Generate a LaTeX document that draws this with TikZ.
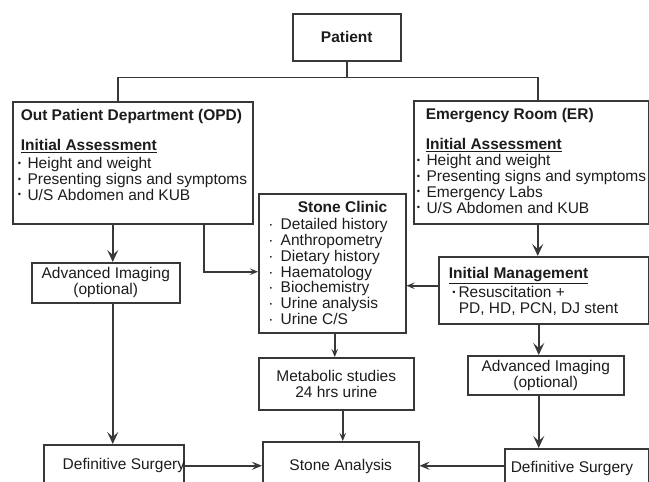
\documentclass[tikz,border=0pt]{standalone}
\usepackage{fontspec}
\setmainfont{Liberation Sans}
\usetikzlibrary{arrows.meta}
\definecolor{linegray}{HTML}{383838}
\definecolor{inkgray}{HTML}{1C1C1C}
% box bodies: width, height, text
\newcommand{\topbox}[3]{\parbox[c][\dimexpr#2pt-10pt\relax][t]{\dimexpr#1pt-8pt\relax}{\raggedright#3}}
\newcommand{\midbox}[3]{\parbox[c][\dimexpr#2pt-10pt\relax][c]{\dimexpr#1pt-8pt\relax}{\centering#3}}
\newcommand{\sbul}{\raisebox{2.5pt}{\scalebox{0.6}{\textbullet}}}
\newcommand{\bitem}[1]{\mbox{\sbul\hspace{6.5pt}#1}}
\newcommand{\citem}[1]{\mbox{\hspace{5.5pt}\makebox[12.5pt][l]{\textperiodcentered}#1}}
\begin{document}
\begin{tikzpicture}[x=1pt,y=-1pt,
  panel/.style={draw=linegray, line width=1.5pt, inner xsep=4pt, inner ysep=5pt,
    anchor=north west, text=inkgray, font=\fontsize{15.5pt}{15.7pt}\selectfont},
  link/.style={draw=linegray, line width=1.5pt},
  arr/.style={link, line width=2pt, -{Stealth[length=12pt,width=11pt,inset=5pt]}},
  arrh/.style={link, line width=2pt, -{Stealth[length=10pt,width=8pt,inset=4pt]}},
  arrs/.style={link, -{Stealth[length=8pt,width=6.5pt,inset=3pt]}}]
\useasboundingbox (0,0) rectangle (649,482);

% Boxes
\node[panel] (patient) at (292,13) {\midbox{108}{47}{\textbf{Patient}}};

\node[panel] (opd) at (12,101) {\topbox{240}{122}{\vspace*{3pt}%
  \hspace*{4pt}\mbox{\textbf{Out Patient Department (OPD)}}\\[14.3pt]
  \hspace*{4pt}\underline{\textbf{Initial Assessment}}\\[2.3pt]
  \hspace*{1pt}\bitem{Height and weight}\\
  \hspace*{1pt}\bitem{Presenting signs and symptoms}\\
  \hspace*{1pt}\bitem{U/S Abdomen and KUB}}};

\node[panel] (er) at (413,100) {\topbox{235}{123}{\vspace*{3pt}%
  \hspace*{8pt}\mbox{\textbf{Emergency Room (ER)}}\\[14.3pt]
  \hspace*{8pt}\underline{\textbf{Initial Assessment}}\\[0.3pt]
  \hspace*{-1pt}\bitem{Height and weight}\\
  \hspace*{-1pt}\bitem{Presenting signs and symptoms}\\
  \hspace*{-1pt}\bitem{Emergency Labs}\\
  \hspace*{-1pt}\bitem{U/S Abdomen and KUB}}};

\node[panel] (clinic) at (258,193) {\topbox{147}{139}{\vspace*{3pt}%
  \hspace*{35pt}\textbf{Stone Clinic}\\[1.3pt]
  \citem{Detailed history}\\
  \citem{Anthropometry}\\
  \citem{Dietary history}\\
  \citem{Haematology}\\
  \citem{Biochemistry}\\
  \citem{Urine analysis}\\
  \citem{Urine C/S}}};

\node[panel] (mgmt) at (438,256) {\topbox{210}{67}{\vspace*{6pt}%
  \hspace*{6pt}\underline{\textbf{Initial Management}}\\[1.3pt]
  \hspace*{9.5pt}\sbul\hspace{3pt}Resuscitation +\\
  \hspace*{16pt}PD, HD, PCN, DJ stent}};

\node[panel] (advl) at (31,262) {\midbox{148}{40}{Advanced Imaging\\(optional)}};
\node[panel] (advr) at (467,355) {\midbox{156}{39}{Advanced Imaging\\(optional)}};
\node[panel] (metab) at (258,357) {\midbox{155}{52}{Metabolic studies\\24 hrs urine}};
\node[panel] (analysis) at (262,441) {\midbox{156}{50}{Stone Analysis}};
\node[panel] (surgl) at (43,444) {\midbox{140}{42}{\makebox[132pt][l]{\hspace{15pt}Definitive Surgery}}};
\node[panel] (surgr) at (504,448) {\midbox{144}{40}{\makebox[136pt][l]{\hspace{2pt}Definitive Surgery}}};

% Patient split
\draw[link] (patient.south) -- ++(0,16) coordinate (bus);
\draw[link] ([xshift=-15pt]opd.north) |- (bus) -| ([xshift=6.5pt]er.north);

% OPD side
\draw[arr] ([xshift=-20pt]opd.south) -- ([xshift=-20pt]opd.south |- advl.north);
\draw[arrs] ([xshift=71pt]opd.south) |- ([yshift=-8.5pt]clinic.west);
\draw[arr] ([xshift=7pt]advl.south) -- ([xshift=7pt]advl.south |- surgl.north);
\draw[arrh] (surgl.east) -- (surgl.east -| analysis.west);

% Stone clinic
\draw[arrs] ([xshift=2.5pt]clinic.south) -- ([xshift=2.5pt]clinic.south |- metab.north);
\draw[arrs] ([xshift=6.5pt]metab.south) -- ([xshift=6.5pt]metab.south |- analysis.north);

% ER side
\draw[arr] ([xshift=6.5pt]er.south) -- ([xshift=6.5pt]er.south |- mgmt.north);
\draw[arrs] ([yshift=4.5pt]mgmt.west) -- ([yshift=4.5pt]mgmt.west -| clinic.east);
\draw[arr] ([xshift=-5pt]mgmt.south) -- ([xshift=-5pt]mgmt.south |- advr.north);
\draw[arr] ([xshift=-7pt]advr.south) -- ([xshift=-7pt]advr.south |- surgr.north);
\draw[arrh] ([yshift=3pt]surgr.west) -- ([yshift=3pt]surgr.west -| analysis.east);
\end{tikzpicture}
\end{document}
